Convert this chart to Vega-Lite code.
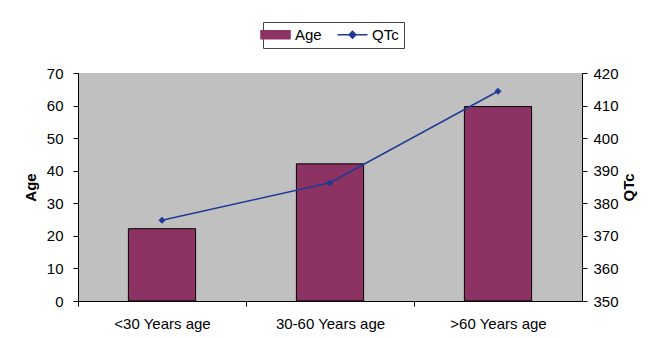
{
  "$schema": "https://vega.github.io/schema/vega-lite/v6.json",
  "width": 504,
  "height": 228,
  "autosize": {"type": "none"},
  "padding": {"left": 78, "top": 73, "right": 71, "bottom": 37},
  "background": "white",
  "config": {
    "font": "Liberation Sans",
    "view": {"fill": "#C0C0C0", "stroke": null},
    "axis": {
      "domainColor": "black",
      "domainWidth": 1,
      "tickColor": "black",
      "tickSize": 5,
      "labelColor": "black",
      "labelFontSize": 15,
      "labelFont": "Liberation Sans",
      "titleColor": "black",
      "titleFont": "Liberation Sans",
      "titleFontSize": 15,
      "titleFontWeight": "bold",
      "grid": false
    }
  },
  "data": {
    "values": [
      {"group": "<30 Years age", "age": 22.2, "qtc": 374.8},
      {"group": "30-60 Years age", "age": 42.1, "qtc": 386.3},
      {"group": ">60 Years age", "age": 59.7, "qtc": 414.4}
    ]
  },
  "encoding": {
    "x": {
      "field": "group",
      "type": "nominal",
      "sort": null,
      "scale": {"paddingInner": 0, "paddingOuter": 0},
      "axis": {"title": null, "labelAngle": 0, "tickOffset": -84, "labelOffset": 84, "labelPadding": 10}
    }
  },
  "layer": [
    {
      "mark": {"type": "bar", "width": {"band": 0.4}, "stroke": "black", "strokeWidth": 1},
      "encoding": {
        "y": {
          "field": "age",
          "type": "quantitative",
          "scale": {"domain": [0, 70]},
          "axis": {"orient": "left", "title": "Age", "values": [0, 10, 20, 30, 40, 50, 60, 70], "labelPadding": 10, "titlePadding": 8}
        },
        "color": {
          "datum": "Age",
          "type": "nominal",
          "scale": {"domain": ["Age", "QTc"], "range": ["#8C3363", "#1F3A93"]},
          "legend": {
            "orient": "none",
            "legendX": 185,
            "legendY": -51,
            "direction": "horizontal",
            "title": null,
            "strokeColor": "#444444",
            "fillColor": "white",
            "padding": 5,
            "labelFontSize": 15,
            "labelColor": "black",
            "labelFont": "Liberation Sans",
            "symbolSize": 144,
            "columnPadding": 12,
            "labelOffset": 12,
            "encode": {
              "symbols": {
                "update": {
                  "shape": {"signal": "datum.value === 'Age' ? 'M-2.42,-0.67H2.42V0.67H-2.42Z' : 'M-2.5,0H2.5M-0.58,0L0,-0.58L0.58,0L0,0.58Z'"},
                  "fill": {"signal": "datum.value === 'Age' ? '#8C3363' : '#1F3A93'"},
                  "stroke": {"signal": "datum.value === 'Age' ? 'black' : '#1F3A93'"},
                  "strokeWidth": {"value": 1.5},
                  "opacity": {"value": 1}
                }
              }
            }
          }
        }
      }
    },
    {
      "mark": {"type": "line", "strokeWidth": 1.5, "point": {"shape": "diamond", "size": 50, "filled": true}},
      "encoding": {
        "y": {
          "field": "qtc",
          "type": "quantitative",
          "scale": {"domain": [350, 420]},
          "axis": {"orient": "right", "title": "QTc", "titleAngle": -90, "values": [350, 360, 370, 380, 390, 400, 410, 420], "labelPadding": 6, "titlePadding": 18}
        },
        "color": {
          "datum": "QTc",
          "type": "nominal",
          "legend": {
            "orient": "none",
            "legendX": 185,
            "legendY": -51,
            "direction": "horizontal",
            "title": null,
            "strokeColor": "#444444",
            "fillColor": "white",
            "padding": 5,
            "labelFontSize": 15,
            "labelColor": "black",
            "labelFont": "Liberation Sans",
            "symbolSize": 144,
            "columnPadding": 12,
            "labelOffset": 12,
            "encode": {
              "symbols": {
                "update": {
                  "shape": {"signal": "datum.value === 'Age' ? 'M-2.42,-0.67H2.42V0.67H-2.42Z' : 'M-2.5,0H2.5M-0.58,0L0,-0.58L0.58,0L0,0.58Z'"},
                  "fill": {"signal": "datum.value === 'Age' ? '#8C3363' : '#1F3A93'"},
                  "stroke": {"signal": "datum.value === 'Age' ? 'black' : '#1F3A93'"},
                  "strokeWidth": {"value": 1.5},
                  "opacity": {"value": 1}
                }
              }
            }
          }
        }
      }
    }
  ],
  "resolve": {"scale": {"y": "independent"}}
}
